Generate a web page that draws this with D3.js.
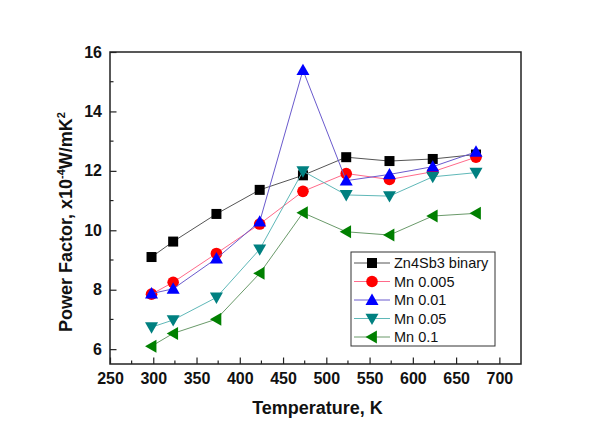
<!DOCTYPE html>
<html>
<head>
<meta charset="utf-8">
<script src="https://cdn.jsdelivr.net/npm/d3@7"></script>
<style>
  body { margin: 0; background: #fff; }
  svg { display: block; }
</style>
</head>
<body>
<svg id="chart" width="606" height="439"></svg>
<script>
const temperatures = [298, 323, 373, 423, 473, 523, 573, 623, 673];
const seriesNames = ["Zn4Sb3 binary", "Mn 0.005", "Mn 0.01", "Mn 0.05", "Mn 0.1"];
const binary   = [9.10, 9.62, 10.55, 11.36, 11.85, 12.46, 12.33, 12.40, 12.55];
const mn0005   = [7.85, 8.25, 9.22, 10.21, 11.31, 11.91, 11.71, 11.97, 12.46];
const mn001    = [7.87, 8.03, 9.05, 10.29, 15.39, 11.67, 11.88, 12.14, 12.64];
const mn005    = [6.74, 6.98, 7.74, 9.36, 11.99, 11.19, 11.15, 11.80, 11.94];
const mn01     = [6.10, 6.53, 7.01, 8.55, 10.59, 9.95, 9.84, 10.48, 10.57];
const xTicks = [250, 300, 350, 400, 450, 500, 550, 600, 650, 700];
const yTicks = [6, 8, 10, 12, 14, 16];

const colors = ["#000000", "#ff0000", "#0000ff", "#008080", "#008000"];
const lineColors = ["#555555", "#ff6a8a", "#6a5acd", "#5fb8b8", "#6a9a6a"];
const symbols = ["square", "circle", "up", "down", "left"];
const values = [binary, mn0005, mn001, mn005, mn01];

const svg = d3.select("#chart");
const m = { left: 110, top: 52, right: 521, bottom: 364 };
const x = d3.scaleLinear().domain([250, 725]).range([m.left, m.right]);
const y = d3.scaleLinear().domain([5.5, 16]).range([m.bottom, m.top]);

// frame
svg.append("rect").attr("x", m.left).attr("y", m.top)
  .attr("width", m.right - m.left).attr("height", m.bottom - m.top)
  .attr("fill", "none").attr("stroke", "#222").attr("stroke-width", 1.5);

// x axis (ticks inward)
const xMinor = d3.range(275, 725, 50);
const gx = svg.append("g").attr("transform", `translate(0,${m.bottom})`);
gx.call(d3.axisBottom(x).tickValues(xTicks).tickSize(-6.5).tickPadding(9).tickFormat(d3.format("d")));
gx.selectAll(".tick line").attr("stroke", "#222").attr("stroke-width", 1.2);
gx.append("g").selectAll("line").data(xMinor).join("line")
  .attr("x1", d => x(d)).attr("x2", d => x(d)).attr("y1", 0).attr("y2", -3.5)
  .attr("stroke", "#222").attr("stroke-width", 1.2);
gx.select(".domain").remove();
gx.selectAll("text").attr("font-family", "Liberation Sans, Arial, sans-serif")
  .attr("font-weight", "bold").attr("font-size", 16).attr("fill", "#111");

// y axis (ticks inward)
const yMinor = [7, 9, 11, 13, 15];
const gy = svg.append("g").attr("transform", `translate(${m.left},0)`);
gy.call(d3.axisLeft(y).tickValues(yTicks).tickSize(-6.5).tickPadding(8).tickFormat(d3.format("d")));
gy.selectAll(".tick line").attr("stroke", "#222").attr("stroke-width", 1.2);
gy.append("g").selectAll("line").data(yMinor).join("line")
  .attr("y1", d => y(d)).attr("y2", d => y(d)).attr("x1", 0).attr("x2", 3.5)
  .attr("stroke", "#222").attr("stroke-width", 1.2);
gy.select(".domain").remove();
gy.selectAll("text").attr("font-family", "Liberation Sans, Arial, sans-serif")
  .attr("font-weight", "bold").attr("font-size", 16).attr("fill", "#111");

// axis titles
svg.append("text").attr("x", (m.left + m.right) / 2 + 2).attr("y", 414)
  .attr("text-anchor", "middle").attr("font-family", "Liberation Sans, Arial, sans-serif")
  .attr("font-weight", "bold").attr("font-size", 18).attr("fill", "#111")
  .text("Temperature, K");

const yt = svg.append("text")
  .attr("transform", `translate(72,${222}) rotate(-90)`)
  .attr("text-anchor", "middle").attr("font-family", "Liberation Sans, Arial, sans-serif")
  .attr("font-weight", "bold").attr("font-size", 18).attr("fill", "#111");
yt.append("tspan").text("Power Factor, x10");
yt.append("tspan").attr("dy", -7).attr("font-size", 11).text("-4");
yt.append("tspan").attr("dy", 7).text("W/mK");
yt.append("tspan").attr("dy", -7).attr("font-size", 11).text("2");

// symbol drawing
function drawSymbol(g, type, cx, cy, color) {
  if (type === "square") {
    g.append("rect").attr("x", cx - 5).attr("y", cy - 5).attr("width", 10).attr("height", 10).attr("fill", color);
  } else if (type === "circle") {
    g.append("circle").attr("cx", cx).attr("cy", cy).attr("r", 5.8).attr("fill", color);
  } else {
    const s = 6.5;
    let pts;
    if (type === "up") pts = [[cx, cy - s], [cx - s, cy + s * 0.75], [cx + s, cy + s * 0.75]];
    else if (type === "down") pts = [[cx, cy + s], [cx - s, cy - s * 0.75], [cx + s, cy - s * 0.75]];
    else pts = [[cx - s, cy], [cx + s * 0.75, cy - s], [cx + s * 0.75, cy + s]];
    g.append("polygon").attr("points", pts.map(p => p.join(",")).join(" ")).attr("fill", color);
  }
}

const line = d3.line().x(d => x(d[0])).y(d => y(d[1]));
values.forEach((vals, i) => {
  const data = temperatures.map((t, k) => [t, vals[k]]);
  const g = svg.append("g");
  g.append("path").attr("d", line(data)).attr("fill", "none")
    .attr("stroke", lineColors[i]).attr("stroke-width", 1);
  data.forEach(d => drawSymbol(g, symbols[i], x(d[0]), y(d[1]), colors[i]));
});

// legend
const lg = svg.append("g");
lg.append("rect").attr("x", 351).attr("y", 252).attr("width", 144).attr("height", 94)
  .attr("fill", "#fff").attr("stroke", "#333").attr("stroke-width", 1);
seriesNames.forEach((name, i) => {
  const cy = 263 + i * 18.5;
  lg.append("line").attr("x1", 354).attr("x2", 390).attr("y1", cy).attr("y2", cy)
    .attr("stroke", lineColors[i]).attr("stroke-width", 1);
  drawSymbol(lg, symbols[i], 372, cy, colors[i]);
  lg.append("text").attr("x", 394).attr("y", cy + 5).attr("font-family", "Liberation Sans, Arial, sans-serif")
    .attr("font-size", 14.5).attr("fill", "#111").text(name);
});
</script>
</body>
</html>
